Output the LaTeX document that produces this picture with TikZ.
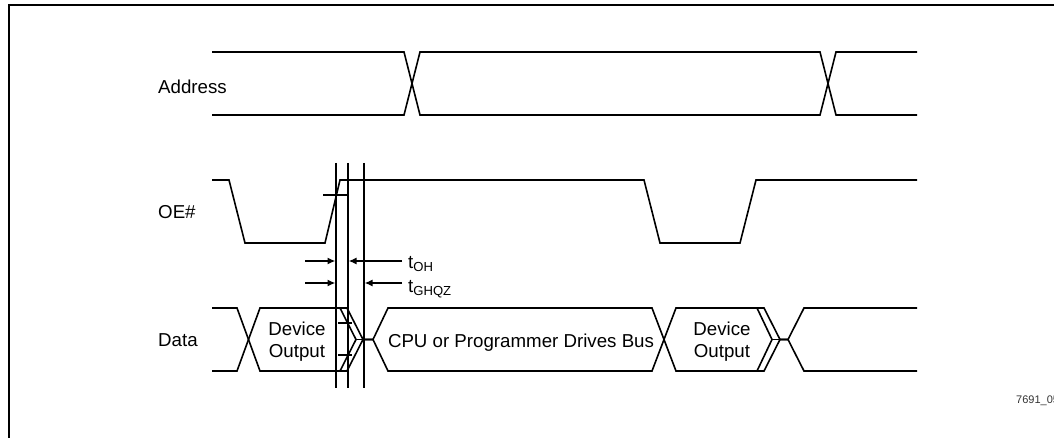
\documentclass[tikz,border=0pt]{standalone}
\usepackage{fontspec}
\setmainfont{Liberation Sans}
\usetikzlibrary{arrows.meta,positioning}
\tikzset{
  signame/.style={anchor=west, inner sep=0pt, font=\fontsize{18.7}{22}\selectfont},
  phase/.style={align=center, inner sep=0pt, font=\fontsize{18.7}{22}\selectfont},
  partno/.style={anchor=west, inner sep=0pt, font=\fontsize{11}{13}\selectfont, text=black!80},
  wave/.style={line width=1.6pt, draw=black, line join=miter},
  frameline/.style={line width=2pt, draw=black},
  timearrow/.style={-{Latex[length=8pt,width=7pt]}, line width=1.6pt, draw=black}
}
\begin{document}
\begin{tikzpicture}[x=1pt,y=-1pt]
\useasboundingbox (0,0) rectangle (1054,438);

\draw[frameline] (9,438) -- (9,5) -- (1054,5);

\node[signame] (address) at (158,87) {Address};
\node[signame] (oe) at (158,212) {OE\#};
\node[signame] (data) at (158,340) {Data};

% address bus
\draw[wave] (212,52) -- (404,52) -- (420,115) -- (820,115) -- (836,52) -- (917,52);
\draw[wave] (212,115) -- (404,115) -- (420,52) -- (820,52) -- (836,115) -- (917,115);

% output enable
\draw[wave] (212,180) -- (229,180) -- (245,243) -- (325,243) -- (340,180) -- (644,180) -- (660,243) -- (740,243) -- (756,180) -- (917,180);

% timing lines
\draw[wave] (336,163) -- (336,388);
\draw[wave] (348,163) -- (348,388);
\draw[wave] (364,163) -- (364,388);
\draw[wave] (323,195) -- (348,195);

% data bus
\draw[wave] (212,308) -- (237,308) -- (260,371) -- (347,371) -- (363,339.5) -- (373,339.5) -- (388,308) -- (652,308) -- (676,371) -- (764,371) -- (780,339.5) -- (788,339.5) -- (804,308) -- (917,308);
\draw[wave] (212,371) -- (237,371) -- (260,308) -- (347,308) -- (363,339.5) -- (373,339.5) -- (388,371) -- (652,371) -- (676,308) -- (764,308) -- (780,339.5) -- (788,339.5) -- (804,371) -- (917,371);
\draw[wave] (340,308) -- (356,339.5) -- (340,371);
\draw[wave] (757,308) -- (772,339.5) -- (757,371);
\draw[wave] (356,339.5) -- (363,339.5);
\draw[wave] (772,339.5) -- (780,339.5);
\draw[wave] (338,323) -- (352,323);
\draw[wave] (338,355) -- (352,355);

\node[phase] (devout1) at (297,342) {Device\\Output};
\node[phase] (cpu) at (521,343) {CPU or Programmer Drives Bus};
\node[phase] (devout2) at (722,342) {Device\\Output};

% timing labels
\node[signame] (toh) at (408,264) {t\textsubscript{OH}};
\node[signame] (tghqz) at (408,289) {t\textsubscript{GHQZ}};

\coordinate (ohleft) at (305,261);
\coordinate (ohmid) at (335.5,261);
\coordinate (ohright) at (402,261);
\coordinate (ohend) at (348.5,261);
\coordinate (gzleft) at (305,283);
\coordinate (gzmid) at (335.5,283);
\coordinate (gzright) at (402,283);
\coordinate (gzend) at (364.5,283);
\draw[timearrow] (ohleft) -- (ohmid);
\draw[timearrow] (ohright) -- (ohend);
\draw[timearrow] (gzleft) -- (gzmid);
\draw[timearrow] (gzright) -- (gzend);

\node[partno] (partno) at (1016,401) {7691\_05};

\end{tikzpicture}
\end{document}
